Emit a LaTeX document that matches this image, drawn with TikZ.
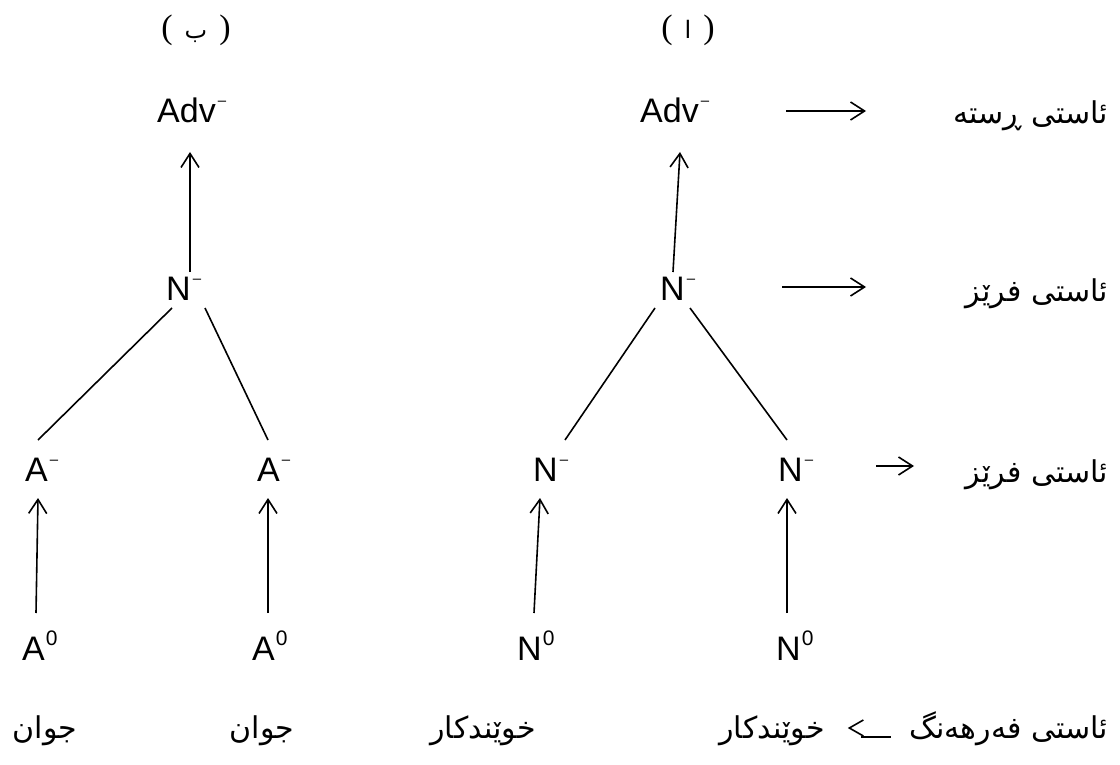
\documentclass[tikz,border=0pt]{standalone}
\usepackage{fontspec}
\setmainfont{Liberation Sans}
\newfontfamily\parenfont{Liberation Serif}
\newfontfamily\arabicfont[Script=Arabic]{DejaVu Sans}
\TeXXeTstate=1
\usetikzlibrary{arrows.meta,calc}
\newcommand{\supminus}{\hspace{2pt}\raisebox{17pt}{\fontsize{15}{15}\selectfont –}}
\newcommand{\supzero}{\hspace{1pt}\raisebox{15pt}{\fontsize{21}{21}\selectfont 0}}
\newcommand{\pbox}[1]{{\parenfont\fontsize{34}{38}\selectfont (}\hspace{12pt}{\arabicfont\fontsize{24}{28}\selectfont #1}\hspace{12pt}{\parenfont\fontsize{34}{38}\selectfont )}}
\begin{document}
\begin{tikzpicture}[x=1pt,y=-1pt,
  lat/.style={font=\fontsize{34}{40}\selectfont, inner sep=0pt, anchor=base west},
  ar/.style={font=\arabicfont\fontsize{30}{34}\selectfont, inner sep=0pt},
  conn/.style={line width=1.6pt},
  arr/.style={conn,-{Straight Barb[length=14pt,width=18pt,line width=1.6pt]}},
]
\useasboundingbox (0,0) rectangle (1120,765);
% top labels
\node[inner sep=0pt] (tb) at (196,30) {\pbox{ب}};
\node[inner sep=0pt] (ta) at (688,30) {\pbox{ا}};
% tree b
\node[lat] (bAdv) at (157,123) {Adv\supminus};
\node[lat] (bN)   at (166,300) {N\supminus};
\node[lat] (bAl)  at (25,481)  {A\supminus};
\node[lat] (bAr)  at (257,481) {A\supminus};
\node[lat] (bZl)  at (22,660)  {A\supzero};
\node[lat] (bZr)  at (252,660) {A\supzero};
% tree a
\node[lat] (aAdv) at (640,123) {Adv\supminus};
\node[lat] (aN)   at (660,300) {N\supminus};
\node[lat] (aNl)  at (533,481) {N\supminus};
\node[lat] (aNr)  at (778,481) {N\supminus};
\node[lat] (aZl)  at (517,660) {N\supzero};
\node[lat] (aZr)  at (776,660) {N\supzero};
% right labels
\node[ar,anchor=base east] (r1) at (1108,124) {\beginR ئاستی ڕستە\endR};
\node[ar,anchor=base east] (r2) at (1108,301) {\beginR ئاستی فرێز\endR};
\node[ar,anchor=base east] (r3) at (1108,482) {\beginR ئاستی فرێز\endR};
% bottom labels
\node[ar,anchor=base] (w1) at (45,738) {\beginR جوان\endR};
\node[ar,anchor=base] (w2) at (262,738) {\beginR جوان\endR};
\node[ar,anchor=base] (w3) at (483,738) {\beginR خوێندکار\endR};
\node[ar,anchor=base] (w4) at (772,738) {\beginR خوێندکار\endR};
\node[ar,anchor=base east] (r4) at (1108,738) {\beginR ئاستی فەرهەنگ\endR};
% tree b connectors
\draw[arr] ($(bN.base west)+(24,-28)$) -- ($(bAdv.base west)+(33,29)$);
\draw[conn] ($(bN.base west)+(6,8)$) -- ($(bAl.base west)+(13,-41)$);
\draw[conn] ($(bN.base west)+(39,8)$) -- ($(bAr.base west)+(11,-41)$);
\draw[arr] ($(bZl.base west)+(14,-47)$) -- ($(bAl.base west)+(13,17)$);
\draw[arr] ($(bZr.base west)+(16,-47)$) -- ($(bAr.base west)+(11,17)$);
% tree a connectors
\draw[arr] ($(aN.base west)+(13,-28)$) -- ($(aAdv.base west)+(40,29)$);
\draw[conn] ($(aN.base west)+(-5,8)$) -- ($(aNl.base west)+(32,-41)$);
\draw[conn] ($(aN.base west)+(30,8)$) -- ($(aNr.base west)+(9,-41)$);
\draw[arr] ($(aZl.base west)+(17,-47)$) -- ($(aNl.base west)+(7,17)$);
\draw[arr] ($(aZr.base west)+(11,-47)$) -- ($(aNr.base west)+(9,17)$);
% level arrows
\draw[arr] ($(aAdv.base west)+(146,-12)$) -- ($(r1.base east)+(-242,-13)$);
\draw[arr] ($(aN.base west)+(122,-13)$) -- ($(r2.base east)+(-242,-14)$);
\draw[arr] ($(aNr.base west)+(98,-15)$) -- ($(r3.base east)+(-194,-16)$);
% bottom arrow (pointing left)
\draw[conn] ($(r4.base west)+(-46,-18)$) -- ($(r4.base west)+(-60,-10)$) -- ($(r4.base west)+(-46,-2)$);
\draw[conn] ($(r4.base west)+(-48,-1)$) -- ($(r4.base west)+(-18,-1)$);
\end{tikzpicture}
\end{document}
